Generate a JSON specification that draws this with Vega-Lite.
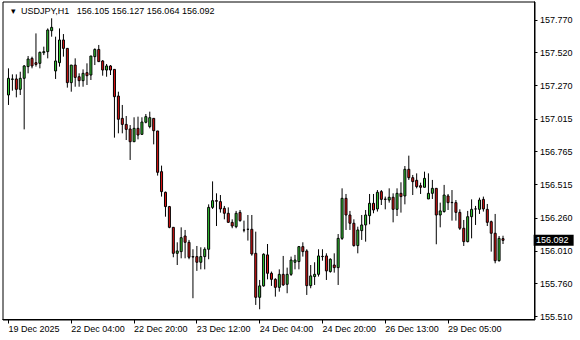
{
  "$schema": "https://vega.github.io/schema/vega-lite/v6.json",
  "width": 532,
  "height": 318,
  "autosize": "none",
  "padding": {"left": 2.5, "top": 1.5, "right": 45.5, "bottom": 20.5},
  "background": "white",
  "config": {
    "view": {"stroke": "black", "strokeWidth": 1},
    "axis": {"labelOverlap": false, "labelFlush": false, "labelBound": false, "title": null, "grid": false}
  },
  "datasets": {
    "bars": [
      {"i":0,"o":157.199,"h":157.402,"l":157.123,"c":157.326},
      {"i":1,"o":157.318,"h":157.356,"l":157.232,"c":157.321},
      {"i":2,"o":157.321,"h":157.356,"l":157.181,"c":157.242},
      {"i":3,"o":157.242,"h":157.376,"l":157.199,"c":157.326},
      {"i":4,"o":157.326,"h":157.427,"l":156.937,"c":157.420},
      {"i":5,"o":157.415,"h":157.496,"l":157.364,"c":157.473},
      {"i":6,"o":157.478,"h":157.491,"l":157.402,"c":157.420},
      {"i":7,"o":157.445,"h":157.668,"l":157.415,"c":157.432},
      {"i":8,"o":157.440,"h":157.529,"l":157.402,"c":157.524},
      {"i":9,"o":157.521,"h":157.567,"l":157.503,"c":157.529},
      {"i":10,"o":157.529,"h":157.706,"l":157.478,"c":157.694},
      {"i":11,"o":157.689,"h":157.783,"l":157.643,"c":157.714},
      {"i":12,"o":157.382,"h":157.643,"l":157.321,"c":157.458},
      {"i":13,"o":157.445,"h":157.706,"l":157.415,"c":157.618},
      {"i":14,"o":157.618,"h":157.663,"l":157.491,"c":157.554},
      {"i":15,"o":157.554,"h":157.554,"l":157.255,"c":157.293},
      {"i":16,"o":157.293,"h":157.427,"l":157.224,"c":157.427},
      {"i":17,"o":157.427,"h":157.478,"l":157.262,"c":157.333},
      {"i":18,"o":157.338,"h":157.364,"l":157.262,"c":157.308},
      {"i":19,"o":157.308,"h":157.394,"l":157.262,"c":157.364},
      {"i":20,"o":157.369,"h":157.440,"l":157.275,"c":157.346},
      {"i":21,"o":157.351,"h":157.496,"l":157.313,"c":157.496},
      {"i":22,"o":157.491,"h":157.554,"l":157.427,"c":157.546},
      {"i":23,"o":157.546,"h":157.580,"l":157.453,"c":157.453},
      {"i":24,"o":157.458,"h":157.465,"l":157.346,"c":157.389},
      {"i":25,"o":157.389,"h":157.435,"l":157.338,"c":157.420},
      {"i":26,"o":157.420,"h":157.427,"l":157.351,"c":157.389},
      {"i":27,"o":157.394,"h":157.394,"l":156.874,"c":157.186},
      {"i":28,"o":157.191,"h":157.224,"l":156.907,"c":157.014},
      {"i":29,"o":157.021,"h":157.123,"l":156.907,"c":156.975},
      {"i":30,"o":156.975,"h":157.039,"l":156.856,"c":156.937},
      {"i":31,"o":156.940,"h":156.970,"l":156.704,"c":156.843},
      {"i":32,"o":156.843,"h":157.029,"l":156.843,"c":156.945},
      {"i":33,"o":156.945,"h":157.034,"l":156.861,"c":156.894},
      {"i":34,"o":156.899,"h":157.029,"l":156.899,"c":156.993},
      {"i":35,"o":156.991,"h":157.054,"l":156.983,"c":157.034},
      {"i":36,"o":156.958,"h":157.072,"l":156.945,"c":157.026},
      {"i":37,"o":157.021,"h":157.021,"l":156.823,"c":156.927},
      {"i":38,"o":156.925,"h":156.925,"l":156.585,"c":156.610},
      {"i":39,"o":156.615,"h":156.661,"l":156.425,"c":156.463},
      {"i":40,"o":156.458,"h":156.463,"l":156.272,"c":156.349},
      {"i":41,"o":156.349,"h":156.354,"l":156.184,"c":156.191},
      {"i":42,"o":156.191,"h":156.191,"l":155.963,"c":155.993},
      {"i":43,"o":155.993,"h":156.077,"l":155.904,"c":156.011},
      {"i":44,"o":156.006,"h":156.191,"l":155.955,"c":156.112},
      {"i":45,"o":156.125,"h":156.171,"l":155.955,"c":156.077},
      {"i":46,"o":156.077,"h":156.095,"l":155.948,"c":155.963},
      {"i":47,"o":155.968,"h":156.024,"l":155.651,"c":155.965},
      {"i":48,"o":155.968,"h":156.049,"l":155.859,"c":155.925},
      {"i":49,"o":155.925,"h":156.039,"l":155.871,"c":155.968},
      {"i":50,"o":155.968,"h":156.039,"l":155.871,"c":156.024},
      {"i":51,"o":156.024,"h":156.366,"l":155.948,"c":156.343},
      {"i":52,"o":156.343,"h":156.541,"l":156.331,"c":156.394},
      {"i":53,"o":156.394,"h":156.450,"l":156.201,"c":156.390},
      {"i":54,"o":156.387,"h":156.437,"l":156.303,"c":156.331},
      {"i":55,"o":156.336,"h":156.354,"l":156.252,"c":156.298},
      {"i":56,"o":156.298,"h":156.343,"l":156.227,"c":156.229},
      {"i":57,"o":156.229,"h":156.252,"l":156.184,"c":156.201},
      {"i":58,"o":156.196,"h":156.316,"l":156.184,"c":156.298},
      {"i":59,"o":156.305,"h":156.323,"l":156.234,"c":156.242},
      {"i":60,"o":156.171,"h":156.242,"l":156.153,"c":156.170},
      {"i":61,"o":156.176,"h":156.285,"l":156.090,"c":156.176},
      {"i":62,"o":156.176,"h":156.285,"l":155.975,"c":155.988},
      {"i":63,"o":155.993,"h":156.158,"l":155.600,"c":155.658},
      {"i":64,"o":155.658,"h":155.790,"l":155.567,"c":155.745},
      {"i":65,"o":155.745,"h":155.993,"l":155.739,"c":155.986},
      {"i":66,"o":155.981,"h":156.064,"l":155.795,"c":155.841},
      {"i":67,"o":155.841,"h":155.854,"l":155.745,"c":155.795},
      {"i":68,"o":155.795,"h":155.803,"l":155.663,"c":155.734},
      {"i":69,"o":155.734,"h":155.871,"l":155.701,"c":155.833},
      {"i":70,"o":155.833,"h":155.973,"l":155.745,"c":155.752},
      {"i":71,"o":155.757,"h":155.884,"l":155.689,"c":155.833},
      {"i":72,"o":155.833,"h":155.968,"l":155.821,"c":155.942},
      {"i":73,"o":155.925,"h":155.981,"l":155.871,"c":155.942},
      {"i":74,"o":155.930,"h":156.049,"l":155.871,"c":156.044},
      {"i":75,"o":156.044,"h":156.077,"l":155.968,"c":156.006},
      {"i":76,"o":156.011,"h":156.024,"l":155.676,"c":155.747},
      {"i":77,"o":155.747,"h":155.904,"l":155.727,"c":155.821},
      {"i":78,"o":155.816,"h":155.925,"l":155.752,"c":155.833},
      {"i":79,"o":155.833,"h":156.024,"l":155.816,"c":155.973},
      {"i":80,"o":155.968,"h":156.024,"l":155.937,"c":155.970},
      {"i":81,"o":155.973,"h":155.993,"l":155.790,"c":155.859},
      {"i":82,"o":155.854,"h":155.955,"l":155.846,"c":155.948},
      {"i":83,"o":155.904,"h":155.993,"l":155.846,"c":155.884},
      {"i":84,"o":155.884,"h":156.140,"l":155.752,"c":156.107},
      {"i":85,"o":156.107,"h":156.488,"l":156.095,"c":156.412},
      {"i":86,"o":156.412,"h":156.445,"l":156.171,"c":156.285},
      {"i":87,"o":156.285,"h":156.316,"l":156.171,"c":156.222},
      {"i":88,"o":156.222,"h":156.252,"l":156.044,"c":156.052},
      {"i":89,"o":156.052,"h":156.196,"l":155.993,"c":156.171},
      {"i":90,"o":156.166,"h":156.285,"l":156.095,"c":156.209},
      {"i":91,"o":156.209,"h":156.323,"l":156.082,"c":156.285},
      {"i":92,"o":156.280,"h":156.445,"l":156.214,"c":156.374},
      {"i":93,"o":156.374,"h":156.445,"l":156.298,"c":156.323},
      {"i":94,"o":156.331,"h":156.475,"l":156.311,"c":156.458},
      {"i":95,"o":156.463,"h":156.475,"l":156.361,"c":156.404},
      {"i":96,"o":156.406,"h":156.425,"l":156.328,"c":156.404},
      {"i":97,"o":156.399,"h":156.488,"l":156.379,"c":156.420},
      {"i":98,"o":156.420,"h":156.450,"l":156.229,"c":156.328},
      {"i":99,"o":156.328,"h":156.488,"l":156.277,"c":156.450},
      {"i":100,"o":156.450,"h":156.534,"l":156.303,"c":156.425},
      {"i":101,"o":156.430,"h":156.658,"l":156.366,"c":156.633},
      {"i":102,"o":156.633,"h":156.737,"l":156.552,"c":156.569},
      {"i":103,"o":156.569,"h":156.590,"l":156.437,"c":156.539},
      {"i":104,"o":156.549,"h":156.602,"l":156.488,"c":156.501},
      {"i":105,"o":156.508,"h":156.531,"l":156.445,"c":156.496},
      {"i":106,"o":156.496,"h":156.615,"l":156.496,"c":156.564},
      {"i":107,"o":156.407,"h":156.602,"l":156.407,"c":156.450},
      {"i":108,"o":156.450,"h":156.552,"l":156.407,"c":156.488},
      {"i":109,"o":156.488,"h":156.488,"l":156.062,"c":156.285},
      {"i":110,"o":156.285,"h":156.379,"l":156.191,"c":156.316},
      {"i":111,"o":156.311,"h":156.514,"l":156.303,"c":156.437},
      {"i":112,"o":156.430,"h":156.445,"l":156.323,"c":156.379},
      {"i":113,"o":156.381,"h":156.475,"l":156.242,"c":156.379},
      {"i":114,"o":156.379,"h":156.399,"l":156.242,"c":156.305},
      {"i":115,"o":156.305,"h":156.328,"l":156.171,"c":156.184},
      {"i":116,"o":156.184,"h":156.247,"l":156.049,"c":156.082},
      {"i":117,"o":156.082,"h":156.316,"l":156.077,"c":156.272},
      {"i":118,"o":156.272,"h":156.404,"l":156.107,"c":156.328},
      {"i":119,"o":156.331,"h":156.354,"l":156.209,"c":156.331},
      {"i":120,"o":156.328,"h":156.417,"l":156.293,"c":156.399},
      {"i":121,"o":156.404,"h":156.425,"l":156.311,"c":156.331},
      {"i":122,"o":156.328,"h":156.369,"l":156.201,"c":156.229},
      {"i":123,"o":156.234,"h":156.242,"l":156.006,"c":156.146},
      {"i":124,"o":156.146,"h":156.293,"l":155.917,"c":155.937},
      {"i":125,"o":155.937,"h":156.125,"l":155.930,"c":156.107},
      {"i":126,"o":156.105,"h":156.127,"l":156.064,"c":156.092}
    ],
    "tag": [{"p": 156.092, "label": "156.092"}],
    "head": [{"p": 157.8135, "label": "▾\u00a0\u00a0USDJPY,H1\u00a0\u00a0\u00a0156.105 156.127 156.064 156.092"}]
  },
  "layer": [
    {
      "data": {"name": "bars"},
      "mark": {"type": "rule", "color": "black", "strokeWidth": 1},
      "encoding": {
        "x": {
          "field": "i", "type": "quantitative",
          "scale": {"domain": [-0.25, 132.75], "nice": false, "zero": false},
          "axis": {
            "values": [0, 16, 32, 48, 64, 80, 96, 112],
            "tickCount": 20,
            "labelExpr": "['19 Dec 2025','22 Dec 04:00','22 Dec 20:00','23 Dec 12:00','24 Dec 04:00','24 Dec 20:00','26 Dec 13:00','29 Dec 05:00'][round(datum.value/16)]",
            "title": null, "grid": false, "translate": 0,
            "domainColor": "black", "tickColor": "black", "tickSize": 4,
            "labelAlign": "left", "labelBaseline": "top", "labelPadding": 1,
            "labelFont": "Liberation Sans", "labelFontSize": 9, "labelColor": "black",
            "labelOverlap": false, "labelFlush": false, "labelBound": false
          }
        },
        "y": {
          "field": "l", "type": "quantitative",
          "scale": {"domain": [155.489, 157.911], "nice": false, "zero": false},
          "axis": {
            "orient": "right",
            "values": [157.77, 157.52, 157.27, 157.015, 156.765, 156.515, 156.26, 156.01, 155.76, 155.51],
            "tickCount": 20,
            "format": ".3f", "title": null, "grid": false, "translate": 0,
            "domainColor": "black", "tickColor": "black", "tickSize": 3, "labelPadding": 2.5,
            "labelFont": "Liberation Sans", "labelFontSize": 9, "labelColor": "black",
            "labelOverlap": false, "labelFlush": false, "labelBound": false
          }
        },
        "y2": {"field": "h"}
      }
    },
    {
      "data": {"name": "bars"},
      "mark": {"type": "bar", "width": 2, "stroke": "black", "strokeWidth": 1, "opacity": 1, "fillOpacity": 1},
      "encoding": {
        "x": {"field": "i", "type": "quantitative"},
        "y": {"field": "o", "type": "quantitative"},
        "y2": {"field": "c"},
        "fill": {"condition": {"test": "datum.c >= datum.o", "value": "#33cc33"}, "value": "#e01414"}
      }
    },
    {
      "data": {"name": "tag"},
      "mark": {"type": "tick", "orient": "horizontal", "size": 40, "thickness": 11, "color": "black", "opacity": 1},
      "encoding": {
        "x": {"datum": 138.9, "type": "quantitative"},
        "y": {"field": "p", "type": "quantitative"}
      }
    },
    {
      "data": {"name": "tag"},
      "mark": {"type": "text", "align": "left", "baseline": "middle", "color": "white", "font": "Liberation Sans", "fontSize": 9},
      "encoding": {
        "x": {"datum": 134.4, "type": "quantitative"},
        "y": {"field": "p", "type": "quantitative"},
        "text": {"field": "label"}
      }
    },
    {
      "data": {"name": "head"},
      "mark": {"type": "text", "align": "left", "baseline": "alphabetic", "color": "black", "font": "Liberation Sans", "fontSize": 9},
      "encoding": {
        "x": {"datum": 0.625, "type": "quantitative"},
        "y": {"field": "p", "type": "quantitative"},
        "text": {"field": "label"}
      }
    }
  ]
}
